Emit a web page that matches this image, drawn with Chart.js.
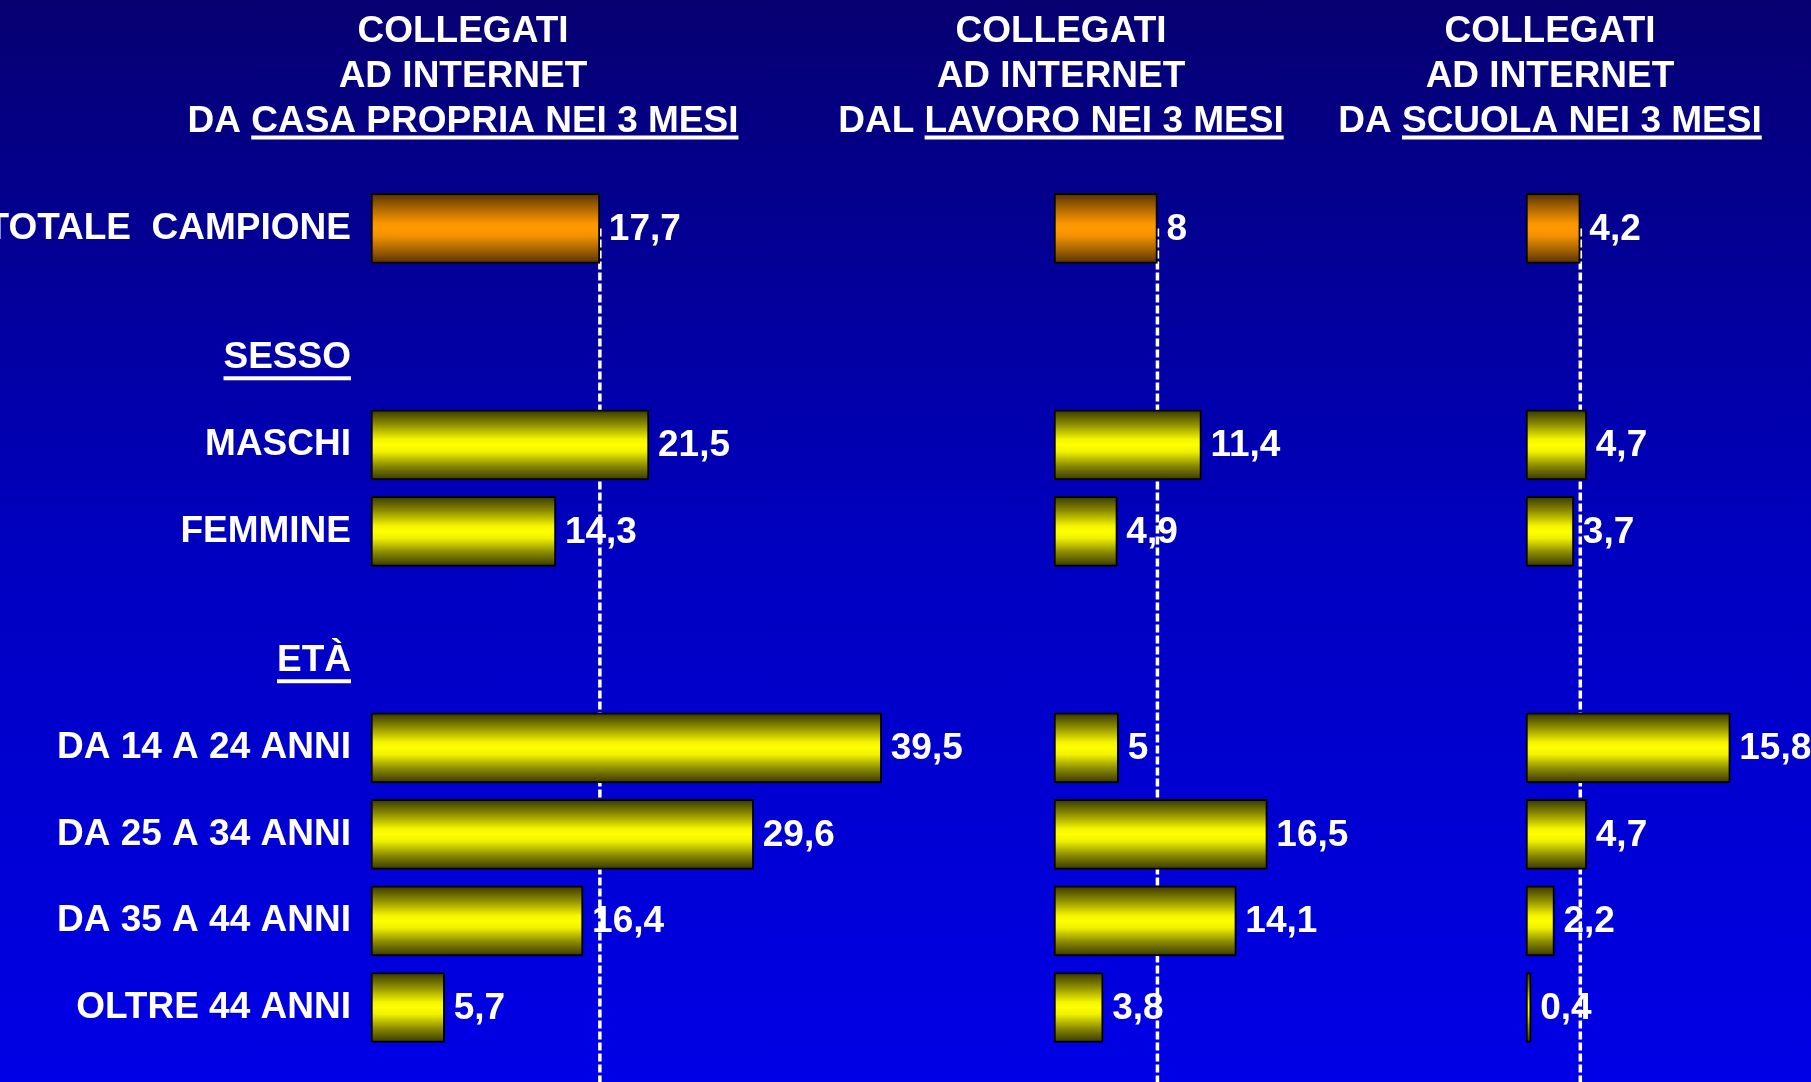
<!DOCTYPE html>
<html>
<head>
<meta charset="utf-8">
<script src="https://cdn.jsdelivr.net/npm/chart.js@4.4.0/dist/chart.umd.min.js"></script>
<style>
  html, body { margin: 0; padding: 0; width: 1811px; height: 1082px; overflow: hidden;
    background: linear-gradient(to bottom, #060070 0%, #0000bf 50%, #0000e6 100%); }
  canvas { position: absolute; left: 0; top: 0; }
</style>
</head>
<body>
<canvas id="c1" width="1811" height="1082"></canvas>
<canvas id="c2" width="1811" height="1082"></canvas>
<canvas id="c3" width="1811" height="1082"></canvas>
<script>
// ---------------- DATA ----------------
const categories = ["TOTALE  CAMPIONE", "SESSO", "MASCHI", "FEMMINE", "ETÀ",
  "DA 14 A 24 ANNI", "DA 25 A 34 ANNI", "DA 35 A 44 ANNI", "OLTRE 44 ANNI"];
const sectionHeaders = ["SESSO", "ETÀ"];
const totalCategory = "TOTALE  CAMPIONE";
const casaValues   = [17.7, null, 21.5, 14.3, null, 39.5, 29.6, 16.4, 5.7];
const lavoroValues = [8,    null, 11.4, 4.9,  null, 5,    16.5, 14.1, 3.8];
const scuolaValues = [4.2,  null, 4.7,  3.7,  null, 15.8, 4.7,  2.2,  0.4];
const titleLine1 = "COLLEGATI";
const titleLine2 = "AD INTERNET";
const titlePrefixes = ["DA ", "DAL ", "DA "];
const titleUnderlined = ["CASA PROPRIA NEI 3 MESI", "LAVORO NEI 3 MESI", "SCUOLA NEI 3 MESI"];

// ---------------- LAYOUT / STYLE ----------------
const W = 1811, H = 1082;
const FONT_FAMILY = "'Liberation Sans', Arial, Helvetica, sans-serif";
const FONT_SIZE = 37;
const FONT = "bold " + FONT_SIZE + "px " + FONT_FAMILY;
const PX_PER_UNIT = 12.93;
const GAP_SLOTS_BEFORE = [0, 2, 1, 1, 2, 1, 1, 1, 1]; // empty half-rows before each category
const SLOT = 43.28;
const AREA_TOP = 206.8;
const BAR_THICKNESS = 70;
const LABEL_PAD = 20;
const TITLE_BASELINES = [42, 86.5, 131.5];

const panelLayout = [
  { id: "c1", values: casaValues,   titleX: 463,  areaLeft: 371,  xMax: 48, showLabels: true },
  { id: "c2", values: lavoroValues, titleX: 1061, areaLeft: 1054, xMax: 24, showLabels: false },
  { id: "c3", values: scuolaValues, titleX: 1550, areaLeft: 1526, xMax: 22, showLabels: false }
];

function buildRows(values) {
  const labels = [], data = [];
  categories.forEach((c, i) => {
    for (let k = 0; k < GAP_SLOTS_BEFORE[i]; k++) { labels.push(""); data.push(null); }
    labels.push(c); data.push(values[i]);
  });
  return { labels, data };
}

const YELLOW_STOPS = [[0, "#363600"], [0.2, "#8a8a00"], [0.42, "#f4f400"], [0.5, "#ffff00"], [0.6, "#f0f000"], [0.8, "#8a8a00"], [1, "#363600"]];
const ORANGE_STOPS = [[0, "#553000"], [0.2, "#a86400"], [0.42, "#f89500"], [0.5, "#ff9900"], [0.6, "#f49300"], [0.8, "#a86400"], [1, "#553000"]];

function fmt(v) { return String(v).replace(".", ","); }

panelLayout.forEach((p, pi) => {
  const rows = buildRows(p.values);
  const totalRow = rows.labels.indexOf(totalCategory);
  const totalValue = rows.data[totalRow];

  const gradientFill = (ctx) => {
    const chart = ctx.chart;
    if (ctx.type !== "data" || !chart.chartArea) return "#ffff00";
    const y = chart.scales.y.getPixelForValue(ctx.dataIndex);
    const g = chart.ctx.createLinearGradient(0, y - BAR_THICKNESS / 2, 0, y + BAR_THICKNESS / 2);
    const stops = ctx.dataIndex === totalRow ? ORANGE_STOPS : YELLOW_STOPS;
    stops.forEach(s => g.addColorStop(s[0], s[1]));
    return g;
  };

  const refLine = {
    id: "refLine",
    beforeDatasetsDraw(chart) {
      const c = chart.ctx;
      const x = chart.scales.x.getPixelForValue(totalValue);
      const y0 = chart.scales.y.getPixelForValue(totalRow);
      c.save();
      c.strokeStyle = "#ffffff";
      c.lineWidth = 3.5;
      c.setLineDash([8, 3]);
      c.beginPath();
      c.moveTo(x, y0);
      c.lineTo(x, H);
      c.stroke();
      c.restore();
    }
  };

  const valueLabels = {
    id: "valueLabels",
    afterDatasetsDraw(chart) {
      const c = chart.ctx;
      const meta = chart.getDatasetMeta(0);
      c.save();
      c.font = FONT;
      c.fillStyle = "#ffffff";
      c.textAlign = "left";
      c.textBaseline = "middle";
      meta.data.forEach((el, i) => {
        const v = rows.data[i];
        if (v === null || v === undefined) return;
        const pr = el.getProps(["x", "y"], true);
        c.fillText(fmt(v), pr.x + 9, pr.y + 1);
      });
      c.restore();
    }
  };

  const titles = {
    id: "titles",
    afterDraw(chart) {
      const c = chart.ctx;
      c.save();
      c.font = FONT;
      c.fillStyle = "#ffffff";
      c.textBaseline = "alphabetic";
      c.textAlign = "center";
      c.fillText(titleLine1, p.titleX, TITLE_BASELINES[0]);
      c.fillText(titleLine2, p.titleX, TITLE_BASELINES[1]);
      const pre = titlePrefixes[pi], und = titleUnderlined[pi];
      const wp = c.measureText(pre).width, wu = c.measureText(und).width;
      const x0 = p.titleX - (wp + wu) / 2;
      c.textAlign = "left";
      c.fillText(pre, x0, TITLE_BASELINES[2]);
      c.fillText(und, x0 + wp, TITLE_BASELINES[2]);
      c.fillRect(x0 + wp, TITLE_BASELINES[2] + 4, wu, 4);

      if (p.showLabels) {
        const ys = chart.scales.y;
        c.textAlign = "right";
        rows.labels.forEach((lab, i) => {
          if (sectionHeaders.indexOf(lab) < 0) return;
          const y = ys.getPixelForValue(i);
          const w = c.measureText(lab).width;
          const xr = chart.chartArea.left - LABEL_PAD;
          c.fillRect(xr - w, y + 18, w, 4);
        });
      }
      c.restore();
    }
  };

  const areaWidth = p.xMax * PX_PER_UNIT;
  new Chart(document.getElementById(p.id), {
    type: "bar",
    data: {
      labels: rows.labels,
      datasets: [{
        data: rows.data,
        backgroundColor: gradientFill,
        borderColor: "#000000",
        borderWidth: 2,
        borderSkipped: false,
        barThickness: BAR_THICKNESS,
        clip: false
      }]
    },
    options: {
      indexAxis: "y",
      responsive: false,
      animation: false,
      devicePixelRatio: 1,
      events: [],
      layout: {
        padding: {
          top: AREA_TOP,
          bottom: H - (AREA_TOP + rows.labels.length * SLOT),
          left: p.showLabels ? 0 : p.areaLeft,
          right: W - p.areaLeft - areaWidth
        }
      },
      scales: {
        x: { display: false, min: 0, max: p.xMax },
        y: {
          display: p.showLabels,
          grid: { display: false, drawTicks: false },
          border: { display: false },
          ticks: {
            autoSkip: false,
            color: "#ffffff",
            padding: LABEL_PAD,
            font: { family: FONT_FAMILY, size: FONT_SIZE, weight: "bold" }
          },
          afterFit: (scale) => { if (p.showLabels) scale.width = p.areaLeft; }
        }
      },
      plugins: { legend: { display: false }, tooltip: { enabled: false }, title: { display: false } }
    },
    plugins: [refLine, valueLabels, titles]
  });
});
</script>
</body>
</html>
